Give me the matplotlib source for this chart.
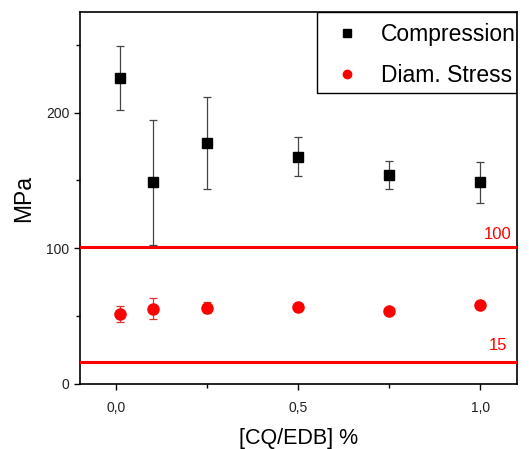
import matplotlib; matplotlib.use("Agg")
import matplotlib.pyplot as plt
from matplotlib.lines import Line2D
from matplotlib.patches import Rectangle
from matplotlib.ticker import MultipleLocator, FixedLocator

plt.rcParams["font.family"] = ["Liberation Sans", "DejaVu Sans"]

# data
conc = [0.01, 0.1, 0.25, 0.5, 0.75, 1.0]
comp = [225.5, 148.5, 177.5, 167.5, 154.0, 148.5]
comp_err = [23.5, 46.0, 34.0, 14.5, 10.5, 15.0]
diam = [51.5, 55.5, 56.0, 56.8, 53.7, 57.8]
diam_err = [6.0, 8.0, 4.0, 2.5, 2.0, 2.0]
ref_vals = [101.0, 16.5]
ref_labels = ["100", "15"]
ref_label_y = [110.0, 28.0]

fig = plt.figure(figsize=(5.29, 4.49), dpi=100)
ax = fig.add_axes([0.151, 0.145, 0.826, 0.828])

ax.errorbar(conc, comp, yerr=comp_err, fmt="s", color="black", ms=7.5,
            ecolor="#444444", elinewidth=0.9, capsize=3, capthick=0.9, zorder=4)
ax.errorbar(conc, diam, yerr=diam_err, fmt="o", color="#ff0000", ms=8,
            ecolor="#e03030", elinewidth=0.9, capsize=3, capthick=0.9, zorder=4)

for v, lab, ty in zip(ref_vals, ref_labels, ref_label_y):
    ax.axhline(v, color="#ff0000", lw=2.2, zorder=3)
    ax.text(1.047, ty, lab, color="#ff0000", fontsize=12, ha="center", va="center")

ax.set_xlim(-0.1, 1.1)
ax.set_ylim(0, 274)
ax.xaxis.set_major_locator(FixedLocator([0.0, 0.5, 1.0]))
ax.xaxis.set_minor_locator(FixedLocator([0.25, 0.75]))
ax.set_xticklabels(["0,0", "0,5", "1,0"])
ax.yaxis.set_major_locator(MultipleLocator(100))
ax.yaxis.set_minor_locator(MultipleLocator(50))
ax.tick_params(which="major", direction="out", length=4, width=1, labelsize=10,
               labelcolor="#222222")
ax.tick_params(which="minor", direction="out", length=3, width=1)
ax.tick_params(axis="x", pad=8)
for s in ax.spines.values():
    s.set_linewidth(1.2)

ax.set_xlabel("[CQ/EDB] %", fontsize=15.5, labelpad=10)
ax.set_ylabel("MPa", fontsize=16.5, labelpad=8)

# legend: frame drawn separately so the text can run up to the right spine
ax.add_patch(Rectangle((0.542, 0.782), 0.458, 0.218, transform=ax.transAxes,
                       fill=False, edgecolor="black", lw=1.0, zorder=5))
handles = [Line2D([], [], ls="none", marker="s", color="black", ms=5.5),
           Line2D([], [], ls="none", marker="o", color="#ff0000", ms=6)]
ax.legend(handles, ["Compression", "Diam. Stress"], loc="center left",
          bbox_to_anchor=(0.586, 0.884), borderaxespad=0, borderpad=0,
          fontsize=16.5, frameon=False, handlelength=1.0, handletextpad=0.95,
          labelspacing=0.8)

fig.savefig("out.png", dpi=100)
